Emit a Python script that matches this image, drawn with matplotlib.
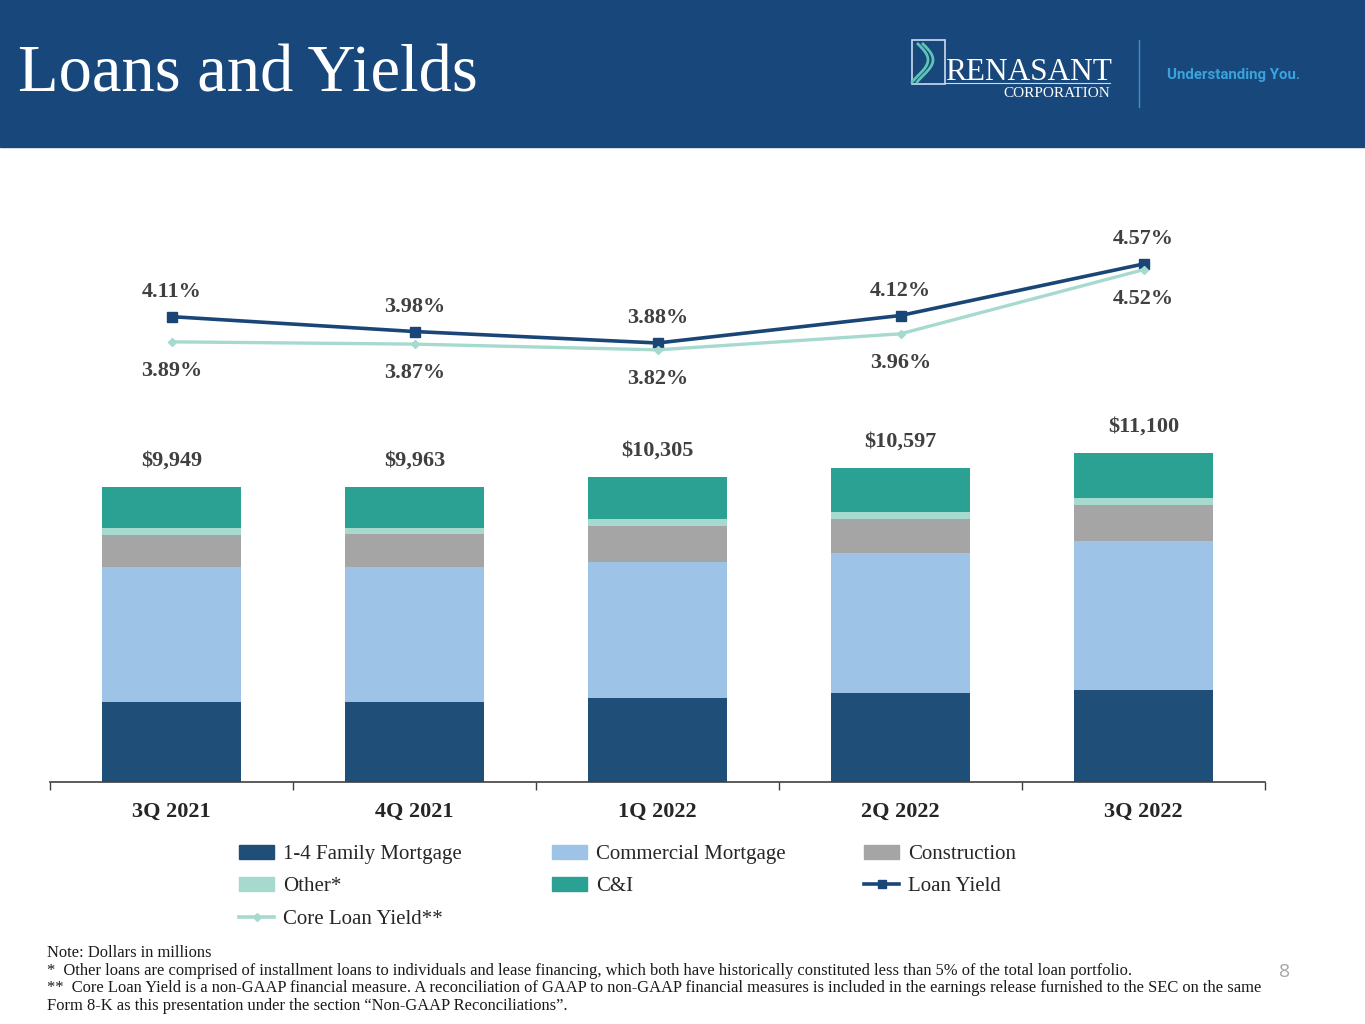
import matplotlib.pyplot as plt
from matplotlib.patches import Rectangle, Patch
from matplotlib.lines import Line2D
import numpy as np

# Loan balances by quarter ($ millions)
quarters = ['3Q 2021', '4Q 2021', '1Q 2022', '2Q 2022', '3Q 2022']
family_mortgage = [2691, 2688, 2822, 3000, 3110]
commercial_mortgage = [4568, 4574, 4590, 4740, 5034]
construction = [1090, 1104, 1239, 1128, 1203]
other = [226, 226, 236, 244, 236]
c_and_i = [1374, 1371, 1418, 1485, 1517]
totals = [9949, 9963, 10305, 10597, 11100]

# Yields (%)
loan_yield = [4.11, 3.98, 3.88, 4.12, 4.57]
core_loan_yield = [3.89, 3.87, 3.82, 3.96, 4.52]

series = [
    ('1-4 Family Mortgage', family_mortgage, '#1F4E79'),
    ('Commercial Mortgage', commercial_mortgage, '#9DC3E6'),
    ('Construction', construction, '#A5A5A5'),
    ('Other*', other, '#A6DACF'),
    ('C&I', c_and_i, '#2BA194'),
]

serif = 'Liberation Serif'
label_color = '#404040'
navy = '#1A4677'
teal_light = '#A6DACF'

fig = plt.figure(figsize=(13.65, 10.24), dpi=100)

# header band
fig.patches.append(Rectangle((0, 877 / 1024), 1, 147 / 1024, transform=fig.transFigure,
                             color='#17477B', zorder=0))
fig.text(18 / 1365, (1024 - 92) / 1024, 'Loans and Yields', family=serif, fontsize=48,
         color='white', va='baseline', ha='left')

# logo
fig.patches.append(Rectangle((912 / 1365, (1024 - 84) / 1024), 33 / 1365, 44 / 1024,
                             transform=fig.transFigure, fill=False, ec='#C9DDF0', lw=1.2))
t = np.linspace(0, 1, 30)
for off in (0, 5):
    xs = (918 + off + 10 * np.sin(t * np.pi * 1.2)) / 1365
    ys = (1024 - (44 + 38 * t)) / 1024
    fig.lines.append(Line2D(xs, ys, transform=fig.transFigure, color='#5FC3B5', lw=2))
fig.text(945 / 1365, (1024 - 80) / 1024, 'RENASANT', family=serif, fontsize=22.5,
         color='white', va='baseline', ha='left')
fig.lines.append(Line2D([945 / 1365, 1110 / 1365], [(1024 - 83) / 1024] * 2,
                        transform=fig.transFigure, color='#C9DDF0', lw=0.8))
fig.text(1110 / 1365, (1024 - 97) / 1024, 'CORPORATION', family=serif, fontsize=11,
         color='white', va='baseline', ha='right')
fig.lines.append(Line2D([1139 / 1365] * 2, [(1024 - 40) / 1024, (1024 - 107) / 1024],
                        transform=fig.transFigure, color='#3E8FC9', lw=1))
fig.text(1167 / 1365, (1024 - 75) / 1024, 'Understanding You.', family='Roboto',
         fontsize=10.8, fontweight='bold', color='#3AA3DD', va='center', ha='left')

# bars
ax = fig.add_axes([50 / 1365, 242 / 1024, 1215 / 1365, 622 / 1024])
x = np.arange(len(quarters))
bottom = np.zeros(len(quarters))
for name, vals, col in series:
    ax.bar(x, vals, 0.57, bottom=bottom, color=col, label=name, zorder=2)
    bottom += np.array(vals)

for xi, tot in zip(x, totals):
    ax.annotate(f'${tot:,}', (xi, tot), xytext=(0, 19), textcoords='offset points',
                ha='center', va='center', family=serif, fontweight='bold',
                fontsize=16, color=label_color)

ax.set_xlim(-0.5, len(quarters) - 0.5)
ax.set_ylim(0, 21000)
ax.set_yticks([])
for s in ('left', 'right', 'top'):
    ax.spines[s].set_visible(False)
ax.spines['bottom'].set_color('#404040')
ax.spines['bottom'].set_linewidth(1.2)
ax.set_xticks(x)
ax.set_xticklabels(quarters, family=serif, fontweight='bold', fontsize=16, color='#262626')
ax.set_xticks(np.arange(-0.5, len(quarters)), minor=True)
ax.tick_params(axis='x', which='major', length=0, pad=14)
ax.tick_params(axis='x', which='minor', length=6, width=1, color='#404040', direction='out')

# yields
ax2 = ax.twinx()
ax2.set_ylim(0.046, 5.478)
ax2.axis('off')
ax2.plot(x, loan_yield, color=navy, lw=2.6, marker='s', ms=7.5, zorder=3)
ax2.plot(x, core_loan_yield, color=teal_light, lw=2.4, marker='D', ms=4.5, zorder=4)
for xi, ly, cy in zip(x, loan_yield, core_loan_yield):
    ax2.annotate(f'{ly:.2f}%', (xi, ly), xytext=(0, 18), textcoords='offset points',
                 ha='center', va='center', family=serif, fontweight='bold',
                 fontsize=16, color=label_color)
    ax2.annotate(f'{cy:.2f}%', (xi, cy), xytext=(0, -21), textcoords='offset points',
                 ha='center', va='center', family=serif, fontweight='bold',
                 fontsize=16, color=label_color)

# legend, one per column
h = {name: Patch(color=col) for name, _, col in series}
h['Loan Yield'] = Line2D([], [], color=navy, lw=2.6, marker='s', ms=6)
h['Core Loan Yield**'] = Line2D([], [], color=teal_light, lw=2.6, marker='D', ms=4)
columns = [
    (239, ['1-4 Family Mortgage', 'Other*', 'Core Loan Yield**']),
    (552, ['Commercial Mortgage', 'C&I']),
    (864, ['Construction', 'Loan Yield']),
]
for xpix, names in columns:
    fig.legend([h[n] for n in names], names, loc='upper left',
               bbox_to_anchor=(xpix / 1365, (1024 - 845) / 1024), frameon=False,
               prop={'family': serif, 'size': 15}, labelcolor='#262626',
               handlelength=1.7, handleheight=0.65, handletextpad=0.4,
               labelspacing=0.62, borderpad=0, borderaxespad=0)

# footnotes
notes = [
    'Note: Dollars in millions',
    '*  Other loans are comprised of installment loans to individuals and lease financing, '
    'which both have historically constituted less than 5% of the total loan portfolio.',
    '**  Core Loan Yield is a non-GAAP financial measure. A reconciliation of GAAP to non-GAAP '
    'financial measures is included in the earnings release furnished to the SEC on the same',
    'Form 8-K as this presentation under the section \u201cNon-GAAP Reconciliations\u201d.',
]
for i, line in enumerate(notes):
    fig.text(47 / 1365, (1024 - (953 + 17.7 * i)) / 1024, line, family=serif,
             fontsize=11.9, color='#1A1A1A', va='center', ha='left')

fig.text(1285 / 1365, (1024 - 972) / 1024, '8', family='Open Sans', fontsize=14,
         color='#A6A6A6', va='center', ha='center')

fig.savefig('out.png', dpi=100)
